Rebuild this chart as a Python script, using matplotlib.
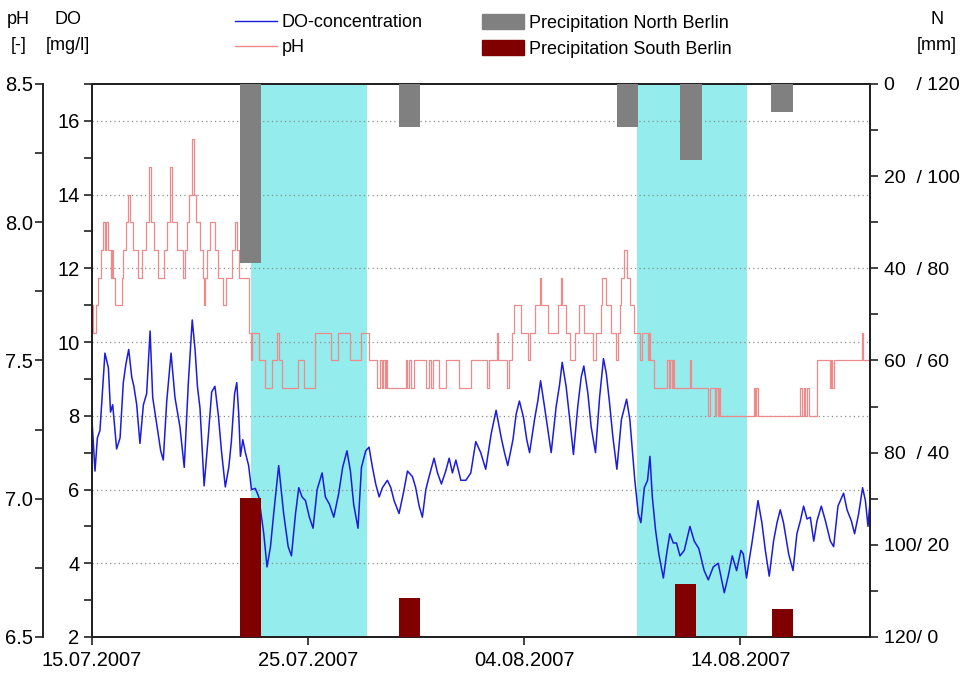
import numpy as np
import pandas as pd
import matplotlib
matplotlib.use('Agg')
import matplotlib.pyplot as plt
import matplotlib.dates as mdates
from matplotlib.lines import Line2D
from matplotlib.patches import Patch
from matplotlib.ticker import FixedLocator, FixedFormatter

plt.rcParams['font.family'] = ['Liberation Sans', 'DejaVu Sans']

START = pd.Timestamp('2007-07-15')

# DO concentration [mg/l], time in days after 15.07.2007 00:00
do_day = [0.00, 0.14, 0.25, 0.37, 0.60, 0.76, 0.86, 0.96, 1.14, 1.30, 1.45, 1.57, 1.70, 1.84,
          1.94, 2.07, 2.22, 2.38, 2.53, 2.69, 2.81, 2.99, 3.18, 3.30, 3.46, 3.66, 3.84, 4.07,
          4.27, 4.46, 4.64, 4.77, 4.88, 5.00, 5.19, 5.39, 5.54, 5.69, 5.85, 6.00,
          6.17, 6.33, 6.45, 6.60, 6.70, 6.79, 6.87, 6.98, 7.10, 7.25, 7.38, 7.56, 7.72, 7.95,
          8.10, 8.26, 8.41, 8.64, 8.87, 9.08, 9.23, 9.42, 9.57, 9.72, 9.88, 10.06, 10.23, 10.42,
          10.65, 10.80, 10.99, 11.19, 11.42, 11.60, 11.80, 11.96, 12.11,
          12.31, 12.47, 12.67, 12.82, 12.98, 13.13, 13.29, 13.44, 13.67, 13.83, 13.98, 14.21,
          14.41, 14.60, 14.83, 14.98, 15.14, 15.29, 15.45, 15.60, 15.83, 15.99, 16.17, 16.37,
          16.53, 16.68, 16.84, 17.07, 17.30, 17.53, 17.76, 17.99, 18.22,
          18.47, 18.70, 18.94, 19.09, 19.24, 19.48, 19.63, 19.78, 19.97, 20.12, 20.25, 20.48,
          20.63, 20.76, 20.94, 21.10, 21.25, 21.48, 21.64, 21.76, 21.94, 22.10, 22.28, 22.48,
          22.64, 22.76, 22.95, 23.10, 23.30, 23.49, 23.67, 23.80, 23.95, 24.10, 24.29,
          24.50, 24.74, 24.89, 25.00, 25.12, 25.28, 25.40, 25.56, 25.71, 25.82, 25.93, 26.08,
          26.23, 26.44, 26.59, 26.74, 26.90, 27.05, 27.21, 27.41, 27.67, 27.87, 28.08, 28.33,
          28.52, 28.75, 28.98, 29.17, 29.26, 29.44, 29.63, 29.83, 30.03, 30.14, 30.29,
          30.39, 30.54, 30.69, 30.82, 31.00, 31.16, 31.34, 31.54, 31.70, 31.85, 32.00, 32.24,
          32.44, 32.62, 32.78, 32.93, 33.09, 33.24, 33.40, 33.55, 33.75, 33.94, 34.17, 34.32,
          34.52, 34.78, 34.94, 35.14, 35.29, 35.48, 35.66, 35.79, 35.91, 36.00]
do_val = [7.9, 6.5, 7.4, 7.6, 9.7, 9.3, 8.1, 8.3, 7.1, 7.4, 8.9, 9.4, 9.8, 9.05,
          8.8, 8.3, 7.25, 8.3, 8.6, 10.3, 8.5, 7.8, 7.05, 6.8, 8.4, 9.7, 8.5, 7.7,
          6.6, 8.9, 10.6, 9.8, 8.8, 8.2, 6.1, 7.5, 8.65, 8.8, 8.0, 7.0,
          6.07, 6.6, 7.3, 8.6, 8.9, 8.06, 6.9, 7.35, 7.0, 6.65, 6.0, 6.03, 5.8, 4.8,
          3.9, 4.45, 5.35, 6.65, 5.35, 4.45, 4.2, 5.35, 6.05, 5.8, 5.7, 5.25, 4.95, 6.0,
          6.45, 5.8, 5.6, 5.25, 5.9, 6.6, 7.05, 6.5, 5.6,
          4.95, 6.6, 7.05, 7.15, 6.6, 6.15, 5.8, 6.05, 6.25, 6.05, 5.7, 5.35,
          5.9, 6.5, 6.35, 6.05, 5.55, 5.25, 6.0, 6.35, 6.85, 6.45, 6.15, 6.5,
          6.85, 6.45, 6.8, 6.25, 6.25, 6.45, 7.3, 7.0, 6.55,
          7.5, 8.15, 7.4, 7.0, 6.65, 7.35, 8.05, 8.4, 7.95, 7.35, 7.0, 7.9,
          8.4, 8.95, 8.25, 7.6, 7.0, 8.25, 8.85, 9.45, 8.8, 7.95, 6.95, 8.25,
          9.05, 9.35, 8.6, 7.7, 7.0, 8.5, 9.55, 9.15, 8.35, 7.45, 6.55,
          7.9, 8.45, 7.9, 7.1, 6.25, 5.35, 5.1, 6.05, 6.25, 6.9, 5.8, 4.9,
          4.25, 3.6, 4.25, 4.8, 4.55, 4.55, 4.2, 4.35, 5.0, 4.6, 4.4, 3.8,
          3.55, 3.9, 4.0, 3.45, 3.2, 3.65, 4.2, 3.8, 4.35, 4.25, 3.6,
          4.0, 4.55, 5.15, 5.7, 5.1, 4.35, 3.65, 4.6, 5.1, 5.45, 5.1, 4.25,
          3.8, 4.8, 5.15, 5.55, 5.2, 5.25, 4.6, 5.15, 5.55, 5.15, 4.6, 4.45,
          5.55, 5.9, 5.45, 5.15, 4.8, 5.35, 6.05, 5.7, 5.0, 5.65]

# pH (stepwise, 0.1 resolution): day at which the value changes, new value
ph_day = [0.00, 0.06, 0.19, 0.29, 0.40, 0.49, 0.60, 0.65, 0.76, 0.86, 0.91, 0.96, 1.06, 1.37,
          1.45, 1.57, 1.68, 1.76, 1.91, 2.15, 2.30, 2.50, 2.65, 2.72, 2.87, 3.07, 3.33, 3.49,
          3.61, 3.69, 3.95, 4.23, 4.31, 4.41, 4.48, 4.61, 4.72, 4.81, 5.00, 5.15, 5.19, 5.25,
          5.31, 5.46, 5.69, 5.85, 6.08, 6.20, 6.48, 6.61, 6.71, 6.82, 7.25, 7.35, 7.41, 7.75,
          7.99, 8.33, 8.58, 8.64, 8.80, 9.54, 9.80, 10.34, 11.04, 11.39, 11.96,
          12.44, 12.82, 13.21, 13.33, 13.40, 13.49, 13.55, 13.61, 13.67, 14.52, 14.60, 14.68,
          14.75, 14.88, 15.45, 15.60, 15.71, 15.80, 16.06, 16.37, 16.99, 17.53, 18.30,
          18.39, 18.76, 18.81, 19.21, 19.29, 19.44, 19.51, 19.86, 20.17, 20.25, 20.52, 20.71,
          20.77, 21.09, 21.56, 21.71, 21.77, 21.94, 22.10, 22.33, 22.56, 22.79, 23.18, 23.33,
          23.56, 23.61, 23.80, 24.03, 24.26, 24.34,
          24.43, 24.50, 24.63, 24.78, 24.89, 25.09, 25.35, 25.46, 25.71, 25.77, 25.82, 26.02,
          26.63, 26.70, 26.76, 26.85, 26.90, 26.94, 27.67, 27.71, 28.52, 28.58, 28.83, 28.89,
          28.95, 29.01, 29.07,
          30.62, 30.68, 30.74, 30.82, 32.78, 32.85, 32.93, 33.01, 33.08, 33.16, 33.55, 34.17,
          34.21, 34.26, 34.32, 35.63, 35.68, 36.00]
ph_val = [7.7, 7.6, 7.7, 7.8, 7.9, 8.0, 7.9, 8.0, 7.9, 7.8, 7.9, 7.8, 7.7, 7.8,
          7.9, 8.0, 8.1, 8.0, 7.9, 7.8, 7.9, 8.0, 8.2, 8.0, 7.9, 7.8, 7.9, 8.0,
          8.2, 8.0, 7.9, 7.8, 7.9, 8.0, 8.1, 8.3, 8.1, 8.0, 7.9, 7.8, 7.7, 7.8,
          7.9, 8.0, 7.9, 7.8, 7.7, 7.8, 7.9, 8.0, 7.9, 7.8, 7.6, 7.5, 7.6, 7.5,
          7.4, 7.5, 7.6, 7.5, 7.4, 7.5, 7.4, 7.6, 7.5, 7.6, 7.5,
          7.6, 7.5, 7.4, 7.5, 7.4, 7.5, 7.4, 7.5, 7.4, 7.5, 7.4, 7.5,
          7.4, 7.5, 7.4, 7.5, 7.4, 7.5, 7.4, 7.5, 7.4, 7.5, 7.4,
          7.5, 7.6, 7.5, 7.4, 7.5, 7.6, 7.7, 7.6, 7.5, 7.6, 7.7, 7.8,
          7.7, 7.6, 7.7, 7.8, 7.7, 7.6, 7.5, 7.6, 7.7, 7.6, 7.5, 7.6,
          7.7, 7.8, 7.7, 7.6, 7.5, 7.6,
          7.7, 7.8, 7.9, 7.8, 7.7, 7.6, 7.5, 7.6, 7.5, 7.6, 7.5, 7.4,
          7.5, 7.4, 7.5, 7.4, 7.5, 7.4, 7.5, 7.4, 7.3, 7.4, 7.3, 7.4,
          7.3, 7.4, 7.3,
          7.4, 7.3, 7.4, 7.3, 7.4, 7.3, 7.4, 7.3, 7.4, 7.3, 7.5, 7.4,
          7.5, 7.4, 7.5, 7.6, 7.5, 7.5]

# daily precipitation [mm], bar centre in days after 15.07.2007
north_day = [7.35, 14.69, 24.78, 27.72, 31.93]
north_mm = [38.9, 9.3, 9.4, 16.6, 6.1]
south_day = [7.35, 14.70, 27.46, 31.97]
south_mm = [30.2, 8.5, 11.5, 6.0]

# rain-influenced periods (shaded)
wet_start = [7.37, 25.21]
wet_end = [12.74, 30.30]

n_ticks = [0, 20, 40, 60, 80, 100, 120]
n_labels = ['0    / 120', '20  / 100', '40  / 80', '60  / 60', '80  / 40', '100/ 20', '120/ 0']
x_ticks = ['2007-07-15', '2007-07-25', '2007-08-04', '2007-08-14']


def to_dates(days):
    return START + pd.to_timedelta(np.asarray(days, dtype=float), unit='D')


FS = 13      # legend / axis titles
TFS = 14.5   # tick labels
fig = plt.figure(figsize=(9.62, 6.75), dpi=100)
ax = fig.add_axes([0.0956, 0.0563, 0.8087, 0.8193])

for s, e in zip(to_dates(wet_start), to_dates(wet_end)):
    ax.axvspan(s, e, color='#94ecec', lw=0, zorder=0)

ax.set_xlim(START, START + pd.Timedelta(days=36))
ax.set_ylim(2, 17)
ax.yaxis.set_major_locator(FixedLocator(list(range(2, 17, 2))))
ax.yaxis.set_minor_locator(FixedLocator(list(range(3, 18, 2))))
ax.yaxis.grid(True, color='#8c8c8c', lw=0.9, ls=(0, (1, 2.5)))
ax.set_axisbelow(True)
ax.plot(to_dates(do_day), do_val, color='#1c1cdc', lw=1.1, zorder=3)

ax.set_xticks(pd.to_datetime(x_ticks))
ax.xaxis.set_major_formatter(mdates.DateFormatter('%d.%m.%Y'))
ax.tick_params(axis='both', which='both', direction='out', labelsize=TFS, width=1.2, color='#222222')
ax.tick_params(axis='both', which='major', length=6)
ax.tick_params(axis='y', which='minor', length=6)
ax.tick_params(axis='x', pad=4)
ax.tick_params(axis='y', pad=3)
for sp in ax.spines.values():
    sp.set_linewidth(1.4)
    sp.set_color('#222222')

# pH axis on an offset left spine
ax_ph = ax.twinx()
ax_ph.spines['left'].set_position(('axes', -0.063))
ax_ph.spines['left'].set_visible(True)
ax_ph.spines['right'].set_visible(False)
ax_ph.spines['top'].set_visible(False)
ax_ph.spines['bottom'].set_visible(False)
ax_ph.spines['left'].set_linewidth(1.4)
ax_ph.spines['left'].set_color('#222222')
ax_ph.yaxis.tick_left()
ax_ph.set_ylim(6.5, 8.5)
ax_ph.yaxis.set_major_locator(FixedLocator([6.5, 7.0, 7.5, 8.0, 8.5]))
ax_ph.yaxis.set_minor_locator(FixedLocator([6.75, 7.25, 7.75, 8.25]))
ax_ph.yaxis.set_major_formatter(FixedFormatter(['6.5', '7.0', '7.5', '8.0', '8.5']))
ax_ph.tick_params(axis='y', which='both', direction='out', length=6, width=1.2,
                  labelsize=TFS, color='#222222', pad=1)
ax_ph.plot(to_dates(ph_day), ph_val, color='#f08a8a', lw=0.9, drawstyle='steps-post', zorder=2)

# precipitation axis (north from top, south from bottom)
ax_n = ax.twinx()
ax_n.set_ylim(120, 0)
ax_n.bar(to_dates(north_day), north_mm, width=0.98, color='#808080', zorder=4)
ax_n.bar(to_dates(south_day), south_mm, width=0.98, bottom=[120 - v for v in south_mm],
         color='#800000', zorder=4)
ax_n.yaxis.set_major_locator(FixedLocator(n_ticks))
ax_n.yaxis.set_major_formatter(FixedFormatter(n_labels))
ax_n.yaxis.set_minor_locator(FixedLocator([10, 30, 50, 70, 90, 110]))
ax_n.tick_params(axis='y', which='both', direction='out', length=6, width=1.2,
                 labelsize=14, color='#222222', pad=4)
for sp in ax_n.spines.values():
    sp.set_linewidth(1.4)
    sp.set_color('#222222')

# axis titles
fig.text(18 / 962, 1 - 20 / 675, 'pH', ha='center', va='center', fontsize=FS)
fig.text(19 / 962, 1 - 45 / 675, '[-]', ha='center', va='center', fontsize=FS)
fig.text(68 / 962, 1 - 20 / 675, 'DO', ha='center', va='center', fontsize=FS)
fig.text(68 / 962, 1 - 45 / 675, '[mg/l]', ha='center', va='center', fontsize=FS)
fig.text(937 / 962, 1 - 20 / 675, 'N', ha='center', va='center', fontsize=FS)
fig.text(937 / 962, 1 - 45 / 675, '[mm]', ha='center', va='center', fontsize=FS)

# legends
h_lines = [Line2D([], [], color='#1c1cdc', lw=1.0), Line2D([], [], color='#f08a8a', lw=1.0)]
fig.legend(h_lines, ['DO-concentration', 'pH'], loc='upper left',
           bbox_to_anchor=(235 / 962, 1 - 14 / 675), frameon=False, fontsize=FS,
           borderpad=0, borderaxespad=0, handlelength=2.3, handletextpad=0.3, labelspacing=0.45)
h_bars = [Patch(color='#808080'), Patch(color='#800000')]
fig.legend(h_bars, ['Precipitation North Berlin', 'Precipitation South Berlin'], loc='upper left',
           bbox_to_anchor=(482 / 962, 1 - 14 / 675), frameon=False, fontsize=FS,
           borderpad=0, borderaxespad=0, handlelength=2.3, handleheight=0.9,
           handletextpad=0.3, labelspacing=0.45)

fig.savefig('out.png', dpi=100)
